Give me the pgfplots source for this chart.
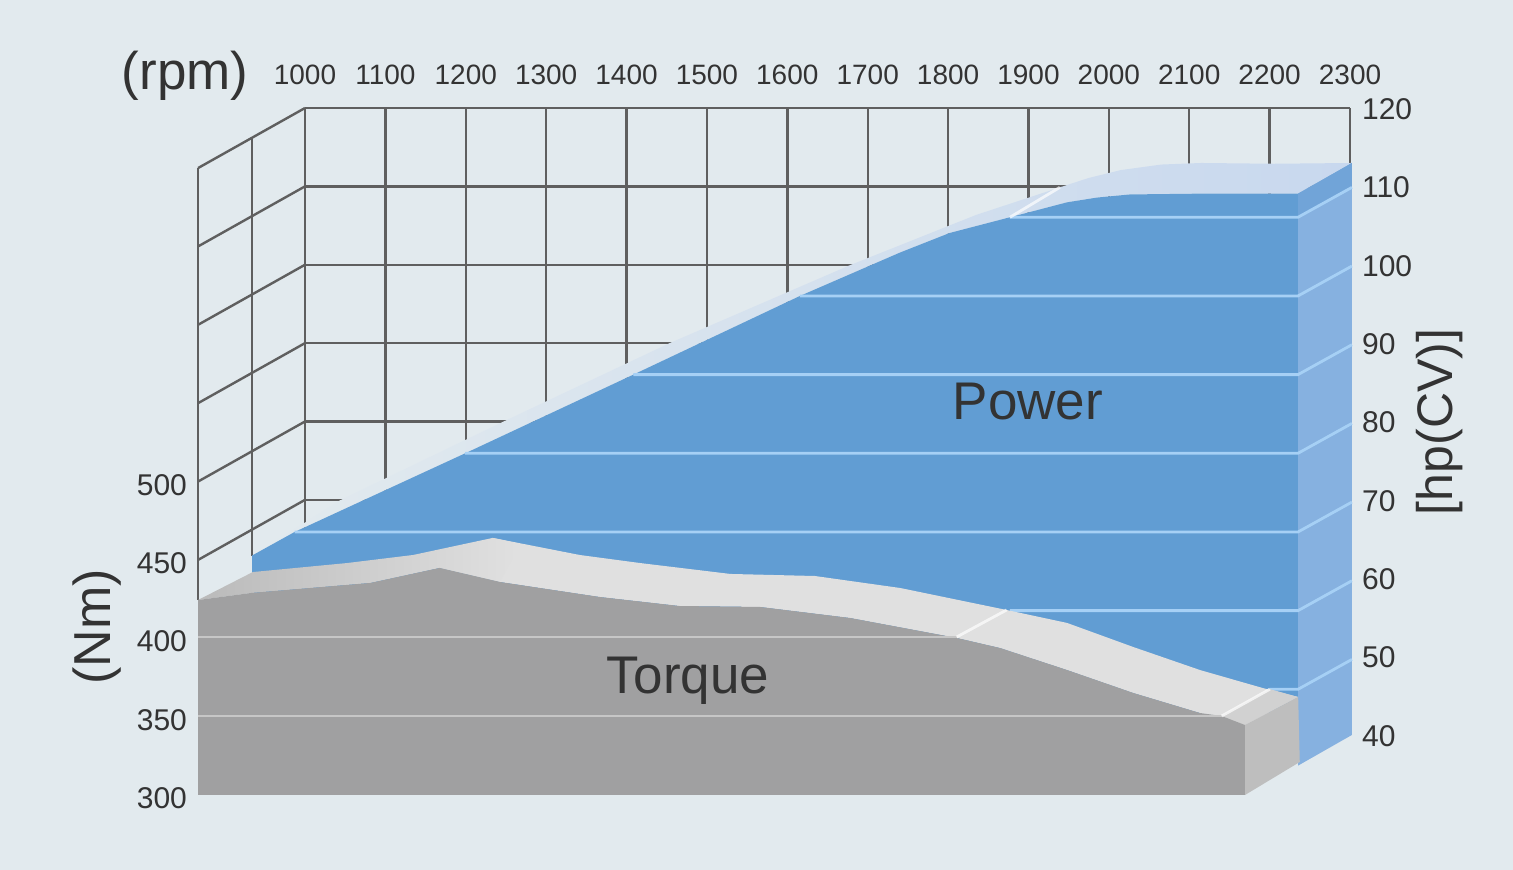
\documentclass[border=0pt]{standalone}
\usepackage{fontspec}
\setmainfont{Liberation Sans}
\usepackage{pgfplots}
\pgfplotsset{compat=1.18}
\definecolor{bgc}{HTML}{E2EAEE}
\definecolor{gridc}{HTML}{5F5F5F}
\definecolor{txt}{HTML}{333333}
\definecolor{blueF}{HTML}{619DD3}
\definecolor{blueS}{HTML}{86B1E0}
\definecolor{blueT}{HTML}{71A4D8}
\definecolor{blueB}{HTML}{C8D8EE}
\definecolor{blueL}{HTML}{A6D0F5}
\definecolor{grayF}{HTML}{A0A0A1}
\definecolor{grayS}{HTML}{BEBEBE}
\definecolor{grayL}{HTML}{C6C6C6}
\pgfplotsset{
  plane/.style={scale only axis, clip=false, hide axis, xmin=1000, xmax=2300},
  wall/.style={gridc, line width=1.2pt, no marks},
  bl/.style={blueL, line width=1.4pt, no marks},
  gl/.style={grayL, line width=1.4pt, no marks},
  tl/.style={white, opacity=.7, line width=1.4pt, no marks},
}
\begin{document}
\begin{tikzpicture}[x=0.5pt,y=0.5pt]
\fill[bgc, use as bounding box] (0,0) rectangle (1513,870);

% back wall: rpm on top, hp on the right
\begin{axis}[
  at={(152.5pt,67.5pt)}, scale only axis, clip=false,
  width=522.5pt, height=313.5pt,
  xmin=1000, xmax=2300, ymin=40, ymax=120,
  axis x line*=top, axis y line*=right,
  axis line style={gridc, line width=1.2pt},
  xtick={1000,1100,...,2300}, ytick={40,50,...,120},
  grid=major, grid style={gridc, line width=1.2pt},
  major tick length=0pt,
  /pgf/number format/1000 sep={},
  /pgf/number format/assume math mode=true,
  xticklabel style={font=\fontsize{14}{14}\selectfont, text=txt, yshift=8pt},
  yticklabel style={font=\fontsize{15}{15}\selectfont, text=txt, anchor=west, xshift=2.5pt, yshift=-.5pt},
]
  % left side wall
  \addplot[wall] coordinates {(1000,120) (867,112.34)};
  \addplot[wall] coordinates {(1000,110) (867,102.34)};
  \addplot[wall] coordinates {(1000,100) (867,92.34)};
  \addplot[wall] coordinates {(1000,90) (867,82.34)};
  \addplot[wall] coordinates {(1000,80) (867,72.34)};
  \addplot[wall] coordinates {(1000,70) (867,62.34)};
  \addplot[wall] coordinates {(867,112.34) (867,57.2)};
  \addplot[wall] coordinates {(934,116.2) (934,62.9)};
\end{axis}

% power block
\begin{axis}[plane, at={(126pt,51pt)}, width=523pt, height=314.7pt, ymin=40, ymax=120]
  % top surface of the block
  \addplot[draw=none, left color=bgc, right color=blueB] coordinates {
    (1000,67.0) (1066,71.2) (1109,74) (1314,84.1) (1519,94) (1743,103.9)
    (1900,110.3) (2004,113.8) (2040,115) (2080,116) (2130,116.7) (2180,116.9)
    (2270,116.8) (2367,116.9)
    (2300,113) (2178,113) (2091,112.9) (2050,112.5) (2013,111.9) (1942,110) (1867,108)
    (1805,105.5) (1681,100) (1474,90) (1265,80) (1159,75) (1053,70)} -- cycle;
  % front face
  \addplot[draw=none, fill=blueF] coordinates {
    (1000,67.0) (1053,70) (1159,75) (1265,80) (1474,90) (1681,100) (1805,105.5)
    (1867,108) (1942,110) (2013,111.9) (2050,112.5) (2091,112.9) (2178,113) (2300,113)
    (2300,47) (1000,47)} -- cycle;
  % right side
  \addplot[draw=none, fill=blueS] coordinates {(2300,113) (2367,116.9) (2367,44.2) (2300,40.3)} -- cycle;
  \addplot[draw=none, fill=blueT] coordinates {(2300,113) (2367,116.9) (2367,113.8) (2300,110)} -- cycle;
  % hp lines on the block
  \addplot[bl] coordinates {(1942,110) (2300,110) (2367,113.8)};
  \addplot[bl] coordinates {(1681,100) (2300,100) (2367,103.8)};
  \addplot[bl] coordinates {(1474,90) (2300,90) (2367,93.8)};
  \addplot[bl] coordinates {(1265,80) (2300,80) (2367,83.8)};
  \addplot[bl] coordinates {(1053,70) (2300,70) (2367,73.8)};
  \addplot[bl] coordinates {(1942,60) (2300,60) (2367,63.8)};
  \addplot[bl] coordinates {(2265,50) (2300,50) (2367,53.8)};
  \addplot[tl] coordinates {(1942,110) (2004,113.8)};
\end{axis}

% torque block
\begin{axis}[plane, at={(99pt,37.5pt)}, width=523.5pt, height=158pt, ymin=300, ymax=500]
  % top surface
  \addplot[draw=none, fill=black!12] coordinates {
    (1300,443.7) (1366,462.7) (1474,451.9) (1549,446.8) (1661,439.9) (1766,438.6)
    (1872,431) (2004,417.1) (2079,408.9) (2161,393.7) (2244,379.1) (2322,367.7)
    (2366,362) (2300,344.3) (2271,350) (2244,351.9) (2161,364.6) (2079,379.1)
    (1996,393) (1942,399.4) (1810,412) (1698,419) (1598,419.6) (1499,425.3) (1375,434.8)} -- cycle;
  \addplot[draw=none, left color=black!27, right color=black!12] coordinates {
    (1000,423.4) (1068,441.1) (1185,446.8) (1267,451.9) (1366,462.7) (1400,459)
    (1375,434.8) (1300,443.7) (1214,434.2) (1065,427.8)} -- cycle;
  \addplot[draw=none, fill=black!18] coordinates {(2271,350) (2331,367) (2366,362) (2300,344.3)} -- cycle;
  % front face
  \addplot[draw=none, fill=grayF] coordinates {
    (1000,423.4) (1065,427.8) (1214,434.2) (1300,443.7) (1375,434.8) (1499,425.3)
    (1598,419.6) (1698,419) (1810,412) (1942,399.4) (1996,393) (2079,379.1)
    (2161,364.6) (2244,351.9) (2271,350) (2300,344.3) (2300,300) (1000,300)} -- cycle;
  % right side
  \addplot[draw=none, fill=grayS] coordinates {(2300,344.3) (2366,362) (2368,320.9) (2300,300)} -- cycle;
  % Nm lines on the block
  \addplot[gl] coordinates {(1000,400) (1942,400)};
  \addplot[gl] coordinates {(1000,350) (2271,350)};
  \addplot[tl] coordinates {(1942,400) (2004,417.1)};
  \addplot[tl] coordinates {(2271,350) (2331,367)};
\end{axis}

% Nm tick labels
\begin{axis}[
  at={(99pt,36pt)}, scale only axis, width=523.5pt, height=156.5pt,
  xmin=1000, xmax=2300, ymin=300, ymax=500,
  axis x line=none, axis y line*=left, y axis line style={draw=none},
  ytick={300,350,...,500}, major tick length=0pt,
  /pgf/number format/assume math mode=true,
  yticklabel style={font=\fontsize{15}{15}\selectfont, text=txt, xshift=-2pt},
]
\end{axis}

\node[text=txt, font=\fontsize{26.5}{26.5}\selectfont] at (185,794) {(rpm)};
\node[text=txt, font=\fontsize{26.5}{26.5}\selectfont] at (1028,468) {Power};
\node[text=txt, font=\fontsize{26.5}{26.5}\selectfont] at (688,189) {Torque};
\node[text=txt, font=\fontsize{26}{26}\selectfont, rotate=90] at (97,243) {(Nm)};
\node[text=txt, font=\fontsize{25}{25}\selectfont, rotate=90] at (1440,448) {[hp(CV)]};
\end{tikzpicture}
\end{document}
